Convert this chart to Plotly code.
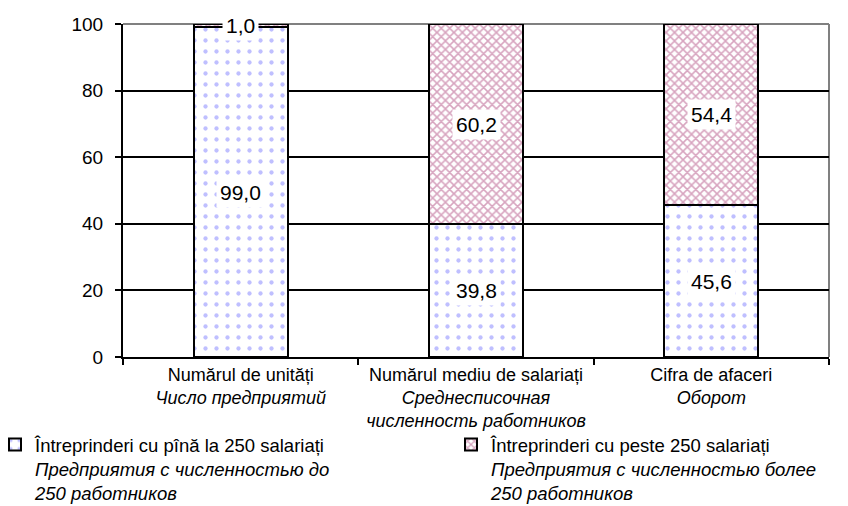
import plotly.graph_objects as go

categories = [
    "Numărul de unități<br><i>Число предприятий</i>",
    "Numărul mediu de salariați<br><i>Среднесписочная</i><br><i>численность работников</i>",
    "Cifra de afaceri<br><i>Оборот</i>",
]
small_values = [99.0, 39.8, 45.6]
large_values = [1.0, 60.2, 54.4]
series_names = [
    "Întreprinderi cu pînă la 250 salariați<br><i>Предприятия с численностью до</i><br><i>250 работников</i>",
    "Întreprinderi cu peste 250 salariați<br><i>Предприятия с численностью более</i><br><i>250 работников</i>",
]
y_ticks = [0, 20, 40, 60, 80, 100]

FONT = "Liberation Sans, Arial, sans-serif"
W, H = 840, 498  # page body adds an 8px margin
ML, MR, MT, MB = 115, 19, 16, 149
PW = W - ML - MR

fig = go.Figure()
fig.add_trace(go.Bar(
    x=categories, y=small_values, name=series_names[0], legend="legend",
    marker=dict(color="white", line=dict(color="black", width=2),
                pattern=dict(shape=".", fgcolor="#8080ff", bgcolor="white",
                             size=11, solidity=0.12)),
))
fig.add_trace(go.Bar(
    x=categories, y=large_values, name=series_names[1], legend="legend2",
    marker=dict(color="white", line=dict(color="black", width=2),
                pattern=dict(shape="x", fgcolor="#b04a80", bgcolor="white",
                             size=6, solidity=0.45)),
))

annotations = []
for i, c in enumerate(categories):
    s = small_values[i]
    l = large_values[i]
    for val, ymid in ((s, s / 2), (l, s + l / 2)):
        annotations.append(dict(
            x=c, y=ymid, xref="x", yref="y",
            text=f"{val:.1f}".replace(".", ","),
            showarrow=False, bgcolor="white", borderpad=3,
            font=dict(family=FONT, size=21, color="black"),
        ))

legend_common = dict(
    orientation="v", xref="paper", yref="container",
    xanchor="left", yanchor="top",
    font=dict(family=FONT, size=18.5, color="black"),
    valign="top", bgcolor="rgba(0,0,0,0)",
)

fig.update_layout(
    width=W, height=H,
    margin=dict(l=ML, r=MR, t=MT, b=MB, autoexpand=False),
    barmode="stack", bargap=0.6,
    plot_bgcolor="white", paper_bgcolor="white",
    font=dict(family=FONT, size=18, color="black"),
    annotations=annotations,
    showlegend=True,
    legend=dict(x=(-13 - ML) / PW, y=1 - 418 / H, **legend_common),
    legend2=dict(x=(443 - ML) / PW, y=1 - 418 / H, **legend_common),
    shapes=[
        dict(type="line", xref="paper", yref="paper", x0=0, x1=1, y0=1, y1=1,
             line=dict(color="#808080", width=2), layer="between"),
        dict(type="line", xref="paper", yref="paper", x0=1, x1=1, y0=0, y1=1,
             line=dict(color="#808080", width=2), layer="between"),
    ],
)
fig.update_xaxes(
    type="category", showline=True, linecolor="black", linewidth=2,
    ticks="outside", tickson="boundaries", ticklen=6, tickwidth=2, tickcolor="black",
    showgrid=False, tickfont=dict(family=FONT, size=18, color="black"),
    automargin=False,
)
fig.update_yaxes(
    range=[0, 100], tickvals=y_ticks, showline=True, linecolor="black", linewidth=2,
    ticks="outside", ticklen=6, tickwidth=2, tickcolor="black",
    showgrid=True, gridcolor="black", gridwidth=2, zeroline=False,
    tickfont=dict(family=FONT, size=19, color="black"), ticklabelstandoff=8,
    automargin=False,
)

fig.write_html("out.html")
